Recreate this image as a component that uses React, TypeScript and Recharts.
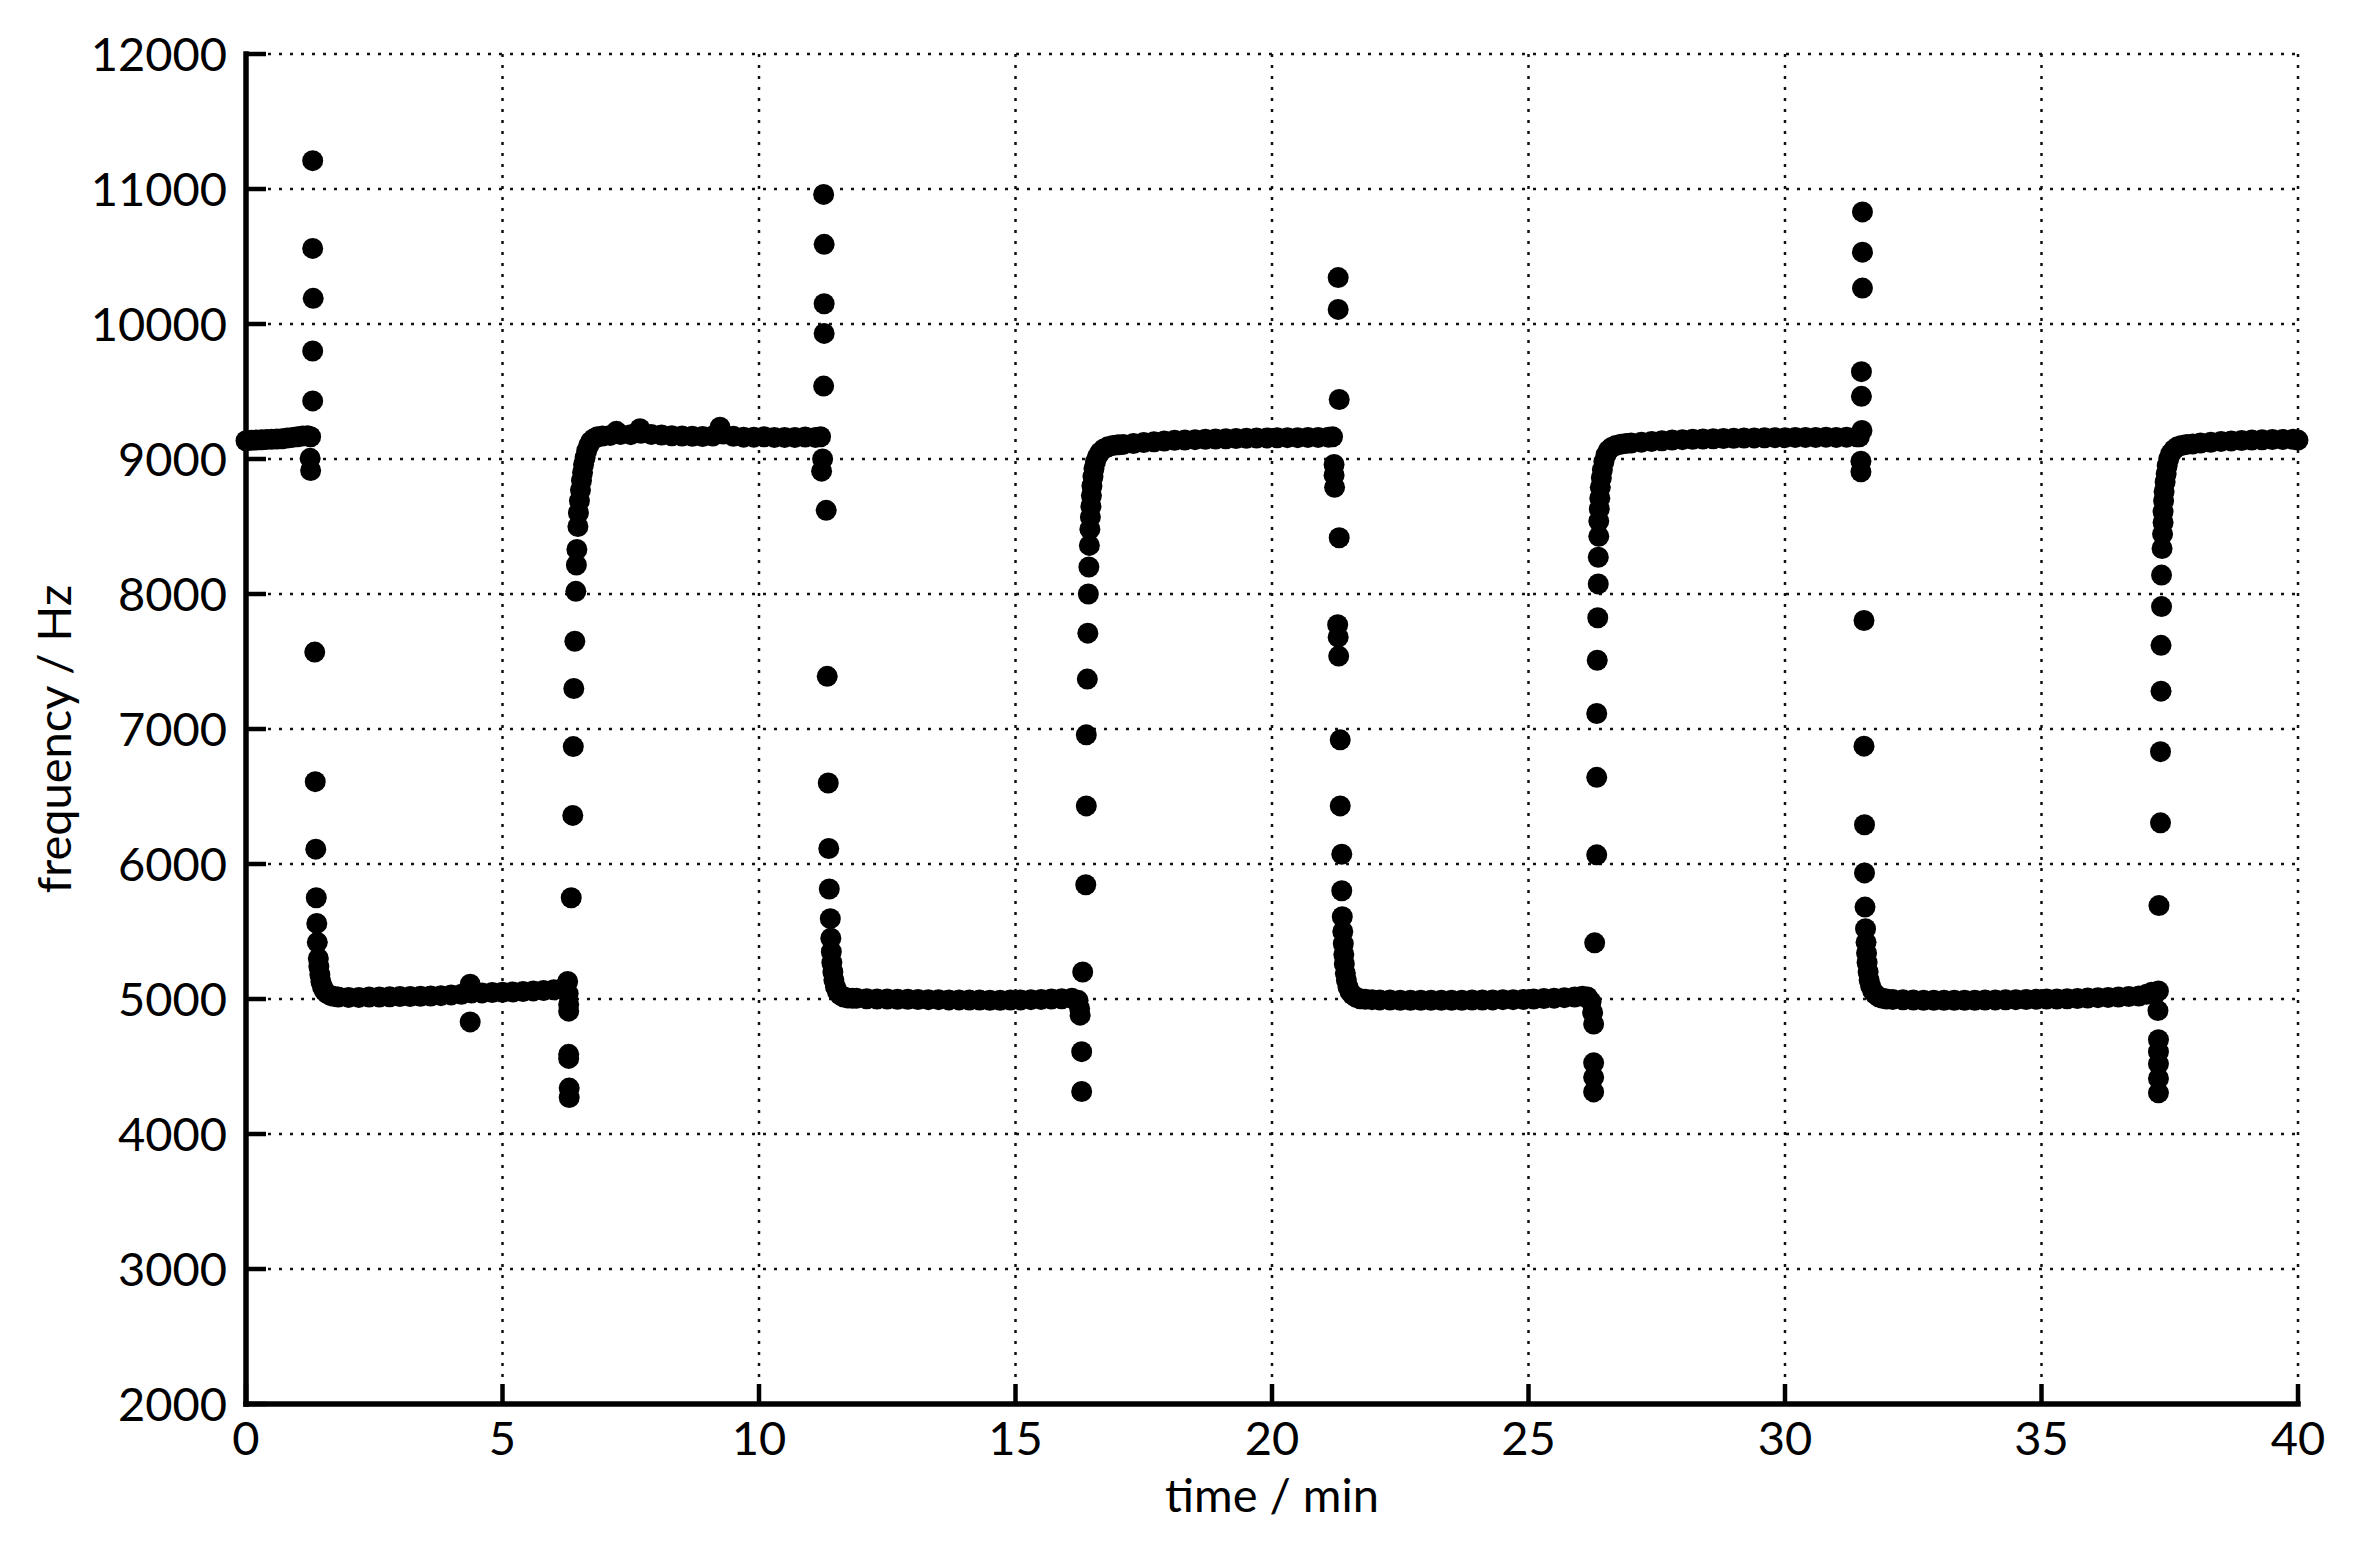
import React from 'react';
import { ScatterChart, Scatter, XAxis, YAxis, CartesianGrid } from 'recharts';

type Pt = [number, number];

// time (min), frequency (Hz), segment by segment
const seg1High: Pt[] = [
  [0, 9135], [0.1, 9138], [0.2, 9140], [0.3, 9142], [0.4, 9144], [0.5, 9146], [0.6, 9148],
  [0.7, 9150], [0.8, 9155], [0.9, 9160], [1.0, 9165], [1.1, 9170], [1.2, 9172], [1.26, 9165],
];
const drop1: Pt[] = [
  [1.25, 9005], [1.26, 8915], [1.30, 9430], [1.30, 9800], [1.31, 10190], [1.30, 10560], [1.30, 11210],
  [1.34, 7570], [1.35, 6610], [1.36, 6110], [1.37, 5750], [1.38, 5560], [1.39, 5420], [1.41, 5300],
  [1.42, 5240], [1.44, 5180], [1.46, 5130], [1.49, 5090], [1.53, 5060], [1.58, 5040], [1.65, 5025], [1.72, 5018],
];
const seg2Low: Pt[] = [
  [1.8, 5015], [2.0, 5012], [2.2, 5012], [2.4, 5014], [2.6, 5015], [2.8, 5016], [3.0, 5018], [3.2, 5018],
  [3.4, 5020], [3.6, 5022], [3.8, 5025], [4.0, 5030], [4.2, 5035], [4.37, 5110], [4.37, 4830], [4.4, 5045],
  [4.6, 5045], [4.8, 5048], [5.0, 5050], [5.2, 5052], [5.4, 5055], [5.6, 5060], [5.8, 5063], [6.0, 5068], [6.15, 5075],
];
const rise1: Pt[] = [
  [6.27, 5130], [6.28, 5040], [6.29, 4960], [6.29, 4910], [6.29, 4590], [6.29, 4560], [6.30, 4340], [6.30, 4270],
  [6.34, 5750], [6.37, 6360], [6.38, 6870], [6.39, 7300], [6.41, 7650], [6.43, 8020], [6.44, 8215], [6.45, 8330],
  [6.47, 8500], [6.48, 8600], [6.50, 8690], [6.52, 8770], [6.54, 8840], [6.56, 8900], [6.58, 8960], [6.61, 9010],
  [6.64, 9060], [6.68, 9100], [6.72, 9130], [6.78, 9150], [6.85, 9165],
];
const seg3High: Pt[] = [
  [6.95, 9170], [7.1, 9175], [7.22, 9205], [7.3, 9182], [7.5, 9180], [7.68, 9225], [7.7, 9190], [7.9, 9182],
  [8.1, 9178], [8.3, 9172], [8.5, 9170], [8.7, 9168], [8.9, 9166], [9.1, 9170], [9.24, 9235], [9.3, 9185],
  [9.5, 9168], [9.7, 9162], [9.9, 9162], [10.1, 9165], [10.3, 9160], [10.5, 9160], [10.7, 9160], [10.9, 9163],
  [11.1, 9160], [11.2, 9165],
];
const drop2: Pt[] = [
  [11.22, 8910], [11.24, 9000], [11.26, 9540], [11.27, 9930], [11.27, 10150], [11.27, 10590], [11.26, 10960],
  [11.31, 8620], [11.33, 7390], [11.35, 6600], [11.36, 6115], [11.37, 5815], [11.39, 5595], [11.40, 5450],
  [11.41, 5350], [11.42, 5270], [11.44, 5200], [11.46, 5140], [11.49, 5090], [11.53, 5055], [11.58, 5030],
  [11.65, 5015], [11.73, 5008], [11.82, 5005],
];
const seg4Low: Pt[] = [
  [11.9, 5005], [12.1, 5002], [12.3, 5000], [12.5, 5000], [12.7, 4998], [12.9, 4998], [13.1, 4996], [13.3, 4995],
  [13.5, 4995], [13.7, 4993], [13.9, 4993], [14.1, 4992], [14.3, 4992], [14.5, 4990], [14.7, 4990], [14.9, 4992],
  [15.1, 4993], [15.3, 4995], [15.5, 4997], [15.7, 5000], [15.9, 5002], [16.1, 5005],
];
const rise2: Pt[] = [
  [16.22, 4990], [16.25, 4930], [16.26, 4880], [16.29, 4610], [16.29, 4315], [16.31, 5200], [16.37, 5846],
  [16.38, 6430], [16.38, 6957], [16.40, 7370], [16.41, 7710], [16.42, 8000], [16.43, 8200], [16.44, 8360],
  [16.45, 8480], [16.46, 8570], [16.47, 8650], [16.48, 8730], [16.49, 8800], [16.51, 8870], [16.53, 8930],
  [16.56, 8980], [16.60, 9020], [16.65, 9050], [16.72, 9075], [16.8, 9090], [16.9, 9100], [17.0, 9105],
];
const seg5High: Pt[] = [
  [17.1, 9108], [17.3, 9115], [17.5, 9122], [17.7, 9128], [17.9, 9133], [18.1, 9138], [18.3, 9140], [18.5, 9143],
  [18.7, 9146], [18.9, 9148], [19.1, 9150], [19.3, 9152], [19.5, 9153], [19.7, 9155], [19.9, 9156], [20.1, 9157],
  [20.3, 9158], [20.5, 9158], [20.7, 9160], [20.9, 9160], [21.1, 9162], [21.18, 9165],
];
const drop3: Pt[] = [
  [21.21, 8960], [21.21, 8880], [21.22, 8790], [21.29, 10344], [21.29, 10108], [21.31, 9441], [21.31, 8417],
  [21.28, 7772], [21.29, 7680], [21.30, 7540], [21.33, 6920], [21.33, 6430], [21.36, 6073], [21.36, 5802],
  [21.37, 5609], [21.38, 5500], [21.39, 5410], [21.40, 5330], [21.41, 5260], [21.43, 5190], [21.45, 5140],
  [21.48, 5090], [21.52, 5055], [21.57, 5030], [21.64, 5012], [21.72, 5002], [21.82, 4998],
];
const seg6Low: Pt[] = [
  [21.95, 4995], [22.1, 4993], [22.3, 4992], [22.5, 4990], [22.7, 4990], [22.9, 4990], [23.1, 4990], [23.3, 4990],
  [23.5, 4990], [23.7, 4990], [23.9, 4992], [24.1, 4992], [24.3, 4993], [24.5, 4995], [24.7, 4995], [24.9, 4997],
  [25.1, 5000], [25.3, 5003], [25.5, 5006], [25.7, 5010], [25.9, 5015], [26.05, 5020],
];
const rise3: Pt[] = [
  [26.15, 5015], [26.22, 4980], [26.25, 4900], [26.27, 4814], [26.27, 4527], [26.27, 4420], [26.27, 4312],
  [26.29, 5416], [26.33, 6068], [26.33, 6642], [26.33, 7115], [26.34, 7509], [26.35, 7824], [26.36, 8075],
  [26.36, 8272], [26.37, 8427], [26.37, 8540], [26.38, 8630], [26.39, 8710], [26.40, 8790], [26.42, 8860],
  [26.44, 8920], [26.47, 8980], [26.51, 9030], [26.56, 9065], [26.62, 9085], [26.7, 9100], [26.8, 9110], [26.9, 9115],
];
const seg7High: Pt[] = [
  [27.0, 9118], [27.2, 9125], [27.4, 9130], [27.6, 9135], [27.8, 9140], [28.0, 9143], [28.2, 9146], [28.4, 9148],
  [28.6, 9150], [28.8, 9152], [29.0, 9153], [29.2, 9155], [29.4, 9156], [29.6, 9157], [29.8, 9158], [30.0, 9158],
  [30.2, 9160], [30.4, 9160], [30.6, 9160], [30.8, 9162], [31.0, 9160], [31.2, 9162], [31.4, 9165],
];
const drop4: Pt[] = [
  [31.45, 9165], [31.50, 9212], [31.48, 8983], [31.48, 8905], [31.49, 9464], [31.49, 9647], [31.51, 10266],
  [31.51, 10532], [31.51, 10830], [31.54, 7804], [31.54, 6873], [31.55, 6291], [31.55, 5934], [31.56, 5681],
  [31.57, 5521], [31.58, 5420], [31.59, 5340], [31.60, 5270], [31.62, 5200], [31.64, 5140], [31.67, 5095],
  [31.71, 5060], [31.76, 5035], [31.83, 5015], [31.9, 5005], [31.98, 5000],
];
const seg8Low: Pt[] = [
  [32.1, 4997], [32.3, 4994], [32.5, 4992], [32.7, 4991], [32.9, 4990], [33.1, 4990], [33.3, 4990], [33.5, 4990],
  [33.7, 4991], [33.9, 4992], [34.1, 4993], [34.3, 4994], [34.5, 4995], [34.7, 4996], [34.9, 4998], [35.1, 5000],
  [35.3, 5000], [35.5, 5002], [35.7, 5004], [35.9, 5007], [36.1, 5010], [36.3, 5012], [36.5, 5015], [36.7, 5018],
  [36.9, 5022], [37.05, 5035], [37.15, 5050],
];
const rise4: Pt[] = [
  [37.22, 5040], [37.28, 5060], [37.27, 4914], [37.28, 4699], [37.28, 4609], [37.28, 4520], [37.28, 4412],
  [37.28, 4305], [37.29, 5692], [37.32, 6305], [37.32, 6832], [37.33, 7280], [37.33, 7620], [37.34, 7907],
  [37.34, 8140], [37.35, 8337], [37.36, 8444], [37.37, 8530], [37.37, 8610], [37.38, 8690], [37.39, 8760],
  [37.41, 8830], [37.43, 8890], [37.45, 8950], [37.48, 9000], [37.52, 9040], [37.58, 9070], [37.65, 9090],
  [37.73, 9100], [37.83, 9108],
];
const seg9High: Pt[] = [
  [37.95, 9112], [38.1, 9118], [38.3, 9124], [38.5, 9130], [38.7, 9134], [38.9, 9137], [39.1, 9140], [39.3, 9142],
  [39.5, 9144], [39.7, 9145], [39.9, 9146], [40.0, 9140],
];

const xTicks = [0, 5, 10, 15, 20, 25, 30, 35, 40];
const yTicks = [2000, 3000, 4000, 5000, 6000, 7000, 8000, 9000, 10000, 11000, 12000];

const segments: Pt[][] = [
  seg1High, drop1, seg2Low, rise1, seg3High, drop2, seg4Low, rise2, seg5High,
  drop3, seg6Low, rise3, seg7High, drop4, seg8Low, rise4, seg9High,
];
const data = segments.flat().map(([t, f]) => ({ t, f }));

const FONT = "Lato, 'Open Sans', sans-serif";
const FS = 47;

const Dot = (props: any) => <circle cx={props.cx} cy={props.cy} r={10.5} fill="#000" />;

const YLabel = (props: any) => {
  const vb = props.viewBox || { x: 0, y: 46, width: 238, height: 1350 };
  const cx = vb.x + 63;
  const cy = vb.y + vb.height / 2 + 10;
  return (
    <text
      x={cx}
      y={cy}
      transform={`rotate(-90 ${cx} ${cy})`}
      textAnchor="middle"
      fontSize={FS}
      fontFamily={FONT}
      fill="#000"
    >
      frequency / Hz
    </text>
  );
};

export default function App() {
  const axisLine = { stroke: '#000', strokeWidth: 5.5, strokeLinecap: 'square' as const };
  const tickLine = { stroke: '#000', strokeWidth: 4.5 };
  const tickStyle = { fill: '#000', fontSize: FS, fontFamily: FONT };
  return (
    <div style={{ width: 2340, height: 1530, background: '#fff' }}>
      <ScatterChart width={2340} height={1530} margin={{ top: 46, right: 50, bottom: 14, left: 0 }}>
        <CartesianGrid stroke="#111" strokeWidth={2.5} strokeDasharray="3 8" />
        <XAxis
          xAxisId={0}
          type="number"
          dataKey="t"
          domain={[0, 40]}
          ticks={xTicks}
          interval={0}
          height={120}
          axisLine={axisLine}
          tickLine={tickLine}
          tickSize={-20}
          tickMargin={38}
          tick={tickStyle}
          label={{ value: 'time / min', position: 'insideBottom', offset: 12, fill: '#000', fontSize: FS, fontFamily: FONT }}
        />
        <XAxis
          xAxisId="top"
          orientation="top"
          mirror
          type="number"
          domain={[0, 40]}
          ticks={xTicks}
          interval={0}
          height={0}
          axisLine={axisLine}
          tickLine={tickLine}
          tickSize={20}
          tick={false}
        />
        <YAxis
          yAxisId={0}
          type="number"
          dataKey="f"
          domain={[2000, 12000]}
          ticks={yTicks}
          interval={0}
          width={238}
          axisLine={axisLine}
          tickLine={tickLine}
          tickSize={-20}
          tickMargin={39}
          tick={tickStyle}
          label={<YLabel />}
        />
        <YAxis
          yAxisId="right"
          orientation="right"
          mirror
          type="number"
          domain={[2000, 12000]}
          ticks={yTicks}
          interval={0}
          width={0}
          axisLine={axisLine}
          tickLine={tickLine}
          tickSize={20}
          tick={false}
        />
        <Scatter data={data} xAxisId={0} yAxisId={0} shape={Dot} isAnimationActive={false} />
      </ScatterChart>
    </div>
  );
}
